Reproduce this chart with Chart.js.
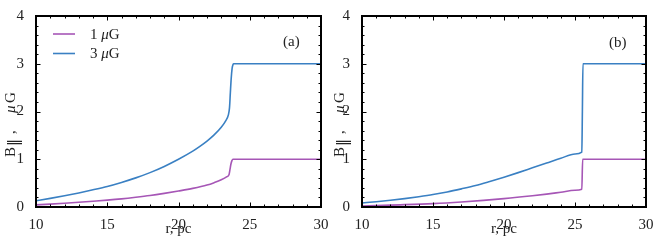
<!DOCTYPE html>
<html><head><meta charset="utf-8">
<script src="https://cdn.jsdelivr.net/npm/chart.js@4"></script>
<style>
html,body{margin:0;padding:0;background:#fff;}
#wrap{position:relative;width:664px;height:245px;overflow:hidden;background:#fff;}
canvas{position:absolute;top:0;}
</style></head><body>
<div id="wrap">
<canvas id="c1" width="340" height="245" style="left:0px"></canvas>
<canvas id="c2" width="338" height="245" style="left:326px"></canvas>
</div>
<script>
// ---------- data ----------
const seriesNames = ['1 μG', '3 μG'];
const xTicks = [10, 15, 20, 25, 30];
const yTicks = [0, 1, 2, 3, 4];
const xMinorStep = 1;
const yMinorStep = 0.2;

// panel (a)
const rA1 = [10, 11, 12, 13, 14, 15, 16, 17, 18, 19, 20, 21, 22, 22.5, 23, 23.4, 23.55, 23.62, 23.68, 23.75, 23.82, 30];
const bA1 = [0.045, 0.06, 0.078, 0.098, 0.12, 0.143, 0.17, 0.203, 0.24, 0.285, 0.335, 0.39, 0.46, 0.51, 0.57, 0.635, 0.68, 0.80, 0.90, 0.97, 1.0, 1.0];
const rA3 = [10, 11, 12, 13, 14, 15, 16, 17, 18, 19, 20, 21, 21.5, 22, 22.5, 23, 23.3, 23.5, 23.58, 23.64, 23.7, 23.76, 23.82, 23.88, 30];
const bA3 = [0.13, 0.18, 0.235, 0.295, 0.36, 0.43, 0.515, 0.61, 0.72, 0.85, 1.0, 1.17, 1.27, 1.38, 1.51, 1.67, 1.80, 1.93, 2.08, 2.4, 2.7, 2.9, 2.98, 3.0, 3.0];

// panel (b)
const rB1 = [10, 12, 15, 17, 20, 22, 23, 24, 25, 25.48, 25.54, 30];
const bB1 = [0.02, 0.04, 0.07, 0.105, 0.175, 0.235, 0.27, 0.31, 0.35, 0.37, 1.0, 1.0];
const rB3 = [10, 11, 12, 13, 14, 15, 16, 17, 18, 19, 20, 21, 22, 23, 24, 25, 25.48, 25.52, 25.56, 30];
const bB3 = [0.085, 0.11, 0.14, 0.175, 0.215, 0.26, 0.315, 0.38, 0.45, 0.535, 0.625, 0.72, 0.82, 0.92, 1.02, 1.11, 1.15, 2.0, 3.0, 3.0];

const colors = ['#a656b6', '#3a80c3'];
const SERIF = '"Liberation Serif", "DejaVu Serif", serif';

function pts(xs, ys) { return xs.map((x, i) => ({x: x, y: ys[i]})); }

// ---------- plugin: frame, inward ticks, labels ----------
const decor = {
  id: 'decor',
  afterDatasetsDraw(chart, args, opts) {
    const {ctx, chartArea: {left, right, top, bottom}, scales: {x, y}} = chart;
    ctx.save();
    ctx.strokeStyle = '#000';
    ctx.lineWidth = 1;
    ctx.beginPath();
    const x0 = xTicks[0], x1 = xTicks[xTicks.length - 1];
    for (let v = x0; v <= x1 + 1e-9; v += xMinorStep) {
      const major = xTicks.some(t => Math.abs(t - v) < 1e-6);
      const L = major ? 4.5 : 2.5;
      const p = Math.round(x.getPixelForValue(v)) + 0.5;
      ctx.moveTo(p, bottom); ctx.lineTo(p, bottom - L);
      ctx.moveTo(p, top); ctx.lineTo(p, top + L);
    }
    const y0 = yTicks[0], y1 = yTicks[yTicks.length - 1];
    for (let k = 0; y0 + k * yMinorStep <= y1 + 1e-9; k++) {
      const v = y0 + k * yMinorStep;
      const major = yTicks.some(t => Math.abs(t - v) < 1e-6);
      const L = major ? 4.5 : 2.5;
      const p = Math.round(y.getPixelForValue(v)) + 0.5;
      ctx.moveTo(left, p); ctx.lineTo(left + L, p);
      ctx.moveTo(right, p); ctx.lineTo(right - L, p);
    }
    ctx.stroke();
    ctx.lineWidth = 2;
    ctx.strokeRect(left, top, right - left, bottom - top);

    // panel tag
    ctx.fillStyle = '#222';
    ctx.font = '15px ' + SERIF;
    ctx.textBaseline = 'middle';
    ctx.textAlign = 'left';
    ctx.fillText(opts.tag, opts.tagX, opts.tagY);

    // y axis title: B_∥, μG  (drawn bottom-to-top)
    ctx.save();
    ctx.fillStyle = '#222';
    ctx.translate(opts.ylabX, opts.ylabStart);
    ctx.rotate(-Math.PI / 2);
    ctx.textAlign = 'left';
    ctx.textBaseline = 'middle';
    const fN = '15px ' + SERIF, fS = '14px "DejaVu Serif", serif', fI = 'italic 15px ' + SERIF;
    const parts = [
      {t: 'B', f: fN, x: 0, dy: 0},
      {t: '\u2016', f: fS, x: 11, dy: 3},
      {t: ',', f: fN, x: 23, dy: 0},
      {t: 'μ', f: fI, x: 44, dy: 0},
      {t: 'G', f: fN, x: 54, dy: 0}
    ];
    parts.forEach(p => { ctx.font = p.f; ctx.fillText(p.t, p.x, p.dy); });
    ctx.restore();

    // legend
    if (opts.legend) {
      chart.data.datasets.forEach((ds, i) => {
        const ly = opts.legY + i * opts.legDy;
        ctx.strokeStyle = ds.borderColor;
        ctx.lineWidth = 1.6;
        ctx.beginPath();
        ctx.moveTo(opts.legX, ly); ctx.lineTo(opts.legX + 22, ly);
        ctx.stroke();
        const [num, unit] = ds.label.split(' ');
        let tx = opts.legX + 37;
        ctx.textAlign = 'left';
        ctx.fillStyle = '#222';
        ctx.font = '15px ' + SERIF; ctx.fillText(num + ' ', tx, ly + 1);
        tx += ctx.measureText(num + ' ').width;
        ctx.font = 'italic 15px ' + SERIF; ctx.fillText('μ', tx, ly + 1);
        tx += ctx.measureText('μ').width;
        ctx.font = '15px ' + SERIF; ctx.fillText('G', tx, ly + 1);
      });
    }
    ctx.restore();
  }
};

function makeChart(id, d1, d3, padRight, decorOpts) {
  return new Chart(document.getElementById(id), {
    type: 'line',
    data: {
      datasets: [
        {label: seriesNames[0], data: d1, borderColor: colors[0], borderWidth: 1.6, pointRadius: 0, fill: false, cubicInterpolationMode: 'monotone'},
        {label: seriesNames[1], data: d3, borderColor: colors[1], borderWidth: 1.6, pointRadius: 0, fill: false, cubicInterpolationMode: 'monotone'}
      ]
    },
    options: {
      responsive: false,
      animation: false,
      events: [],
      layout: {padding: {left: 0, top: 16, right: padRight, bottom: 0}},
      plugins: {legend: {display: false}, tooltip: {enabled: false}, decor: decorOpts},
      scales: {
        x: {
          type: 'linear', min: 10, max: 30,
          afterBuildTicks: s => { s.ticks = xTicks.map(v => ({value: v})); },
          afterFit: s => { s.height = 38; },
          grid: {display: false}, border: {display: false},
          ticks: {color: '#222', font: {family: SERIF, size: 15}, padding: 1, maxRotation: 0, autoSkip: false},
          title: {display: true, text: 'r, pc', color: '#222', font: {family: SERIF, size: 15}, padding: {top: 0, bottom: 7}}
        },
        y: {
          type: 'linear', min: 0, max: 4,
          afterBuildTicks: s => { s.ticks = yTicks.map(v => ({value: v})); },
          afterFit: s => { s.width = 36; },
          grid: {display: false}, border: {display: false},
          ticks: {color: '#222', font: {family: SERIF, size: 15}, padding: 4}
        }
      }
    },
    plugins: [decor]
  });
}

makeChart('c1', pts(rA1, bA1), pts(rA3, bA3), 19,
  {tag: '(a)', tagX: 283, tagY: 42, ylabX: 11, ylabStart: 157, legend: true, legX: 53, legY: 34, legDy: 19.5});
makeChart('c2', pts(rB1, bB1), pts(rB3, bB3), 18,
  {tag: '(b)', tagX: 283, tagY: 43, ylabX: 14, ylabStart: 157, legend: false});
</script>
</body></html>
